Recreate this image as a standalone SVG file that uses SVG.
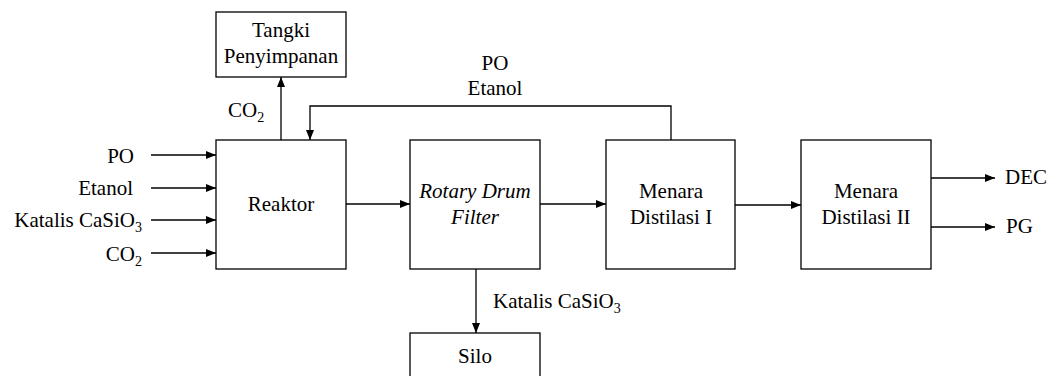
<svg xmlns="http://www.w3.org/2000/svg" width="1053" height="376" viewBox="0 0 1053 376">
<style>
text{font-family:"Liberation Serif","Times New Roman",Times,"Nimbus Roman","DejaVu Serif",serif;font-size:21px;fill:#000}
.box{fill:#fff;stroke:#000;stroke-width:1.3}
.ln{fill:none;stroke:#000;stroke-width:1.3}
.m{text-anchor:middle}
.e{text-anchor:end}
.sub{font-size:14px}
</style>
<defs>
<marker id="ah" viewBox="0 0 10 8" refX="10" refY="4" markerWidth="10" markerHeight="8" markerUnits="userSpaceOnUse" orient="auto">
<path d="M0,0L10,4L0,8z" fill="#000"/>
</marker>
</defs>
<rect width="1053" height="376" fill="#fff"/>
<g id="connectors">
<line class="ln" x1="151" y1="155" x2="216" y2="155" marker-end="url(#ah)"/>
<line class="ln" x1="151" y1="188" x2="216" y2="188" marker-end="url(#ah)"/>
<line class="ln" x1="151" y1="220" x2="216" y2="220" marker-end="url(#ah)"/>
<line class="ln" x1="151" y1="253" x2="216" y2="253" marker-end="url(#ah)"/>
<line class="ln" x1="281" y1="140" x2="281" y2="77" marker-end="url(#ah)"/>
<polyline class="ln" points="671,140 671,106 310,106 310,140" marker-end="url(#ah)"/>
<line class="ln" x1="346" y1="204" x2="410" y2="204" marker-end="url(#ah)"/>
<line class="ln" x1="540" y1="204" x2="606" y2="204" marker-end="url(#ah)"/>
<line class="ln" x1="735" y1="205" x2="801" y2="205" marker-end="url(#ah)"/>
<line class="ln" x1="931" y1="178" x2="995" y2="178" marker-end="url(#ah)"/>
<line class="ln" x1="931" y1="227" x2="995" y2="227" marker-end="url(#ah)"/>
<line class="ln" x1="476" y1="269" x2="476" y2="333" marker-end="url(#ah)"/>
<text class="e" x="134" y="163">PO</text>
<text class="e" x="133" y="195">Etanol</text>
<text class="e" x="142" y="227">Katalis CaSiO<tspan class="sub" dy="5">3</tspan></text>
<text class="e" x="142" y="261">CO<tspan class="sub" dy="5">2</tspan></text>
<text x="228" y="117">CO<tspan class="sub" dy="5">2</tspan></text>
<text class="m" x="495" y="70">PO</text>
<text class="m" x="495" y="95">Etanol</text>
<text x="493" y="308">Katalis CaSiO<tspan class="sub" dy="5">3</tspan></text>
<text x="1005" y="184">DEC</text>
<text x="1006" y="233">PG</text>
</g>
<g id="tangki">
<rect class="box" x="216" y="12" width="130" height="65"/>
<text class="m" x="281" y="37">Tangki</text>
<text class="m" x="281" y="63">Penyimpanan</text>
</g>
<g id="reaktor">
<rect class="box" x="216" y="140" width="130" height="129"/>
<text class="m" x="281" y="211">Reaktor</text>
</g>
<g id="rdf">
<rect class="box" x="410" y="140" width="130" height="129"/>
<text class="m" x="475" y="198" font-style="italic">Rotary Drum</text>
<text class="m" x="475" y="224" font-style="italic">Filter</text>
</g>
<g id="md1">
<rect class="box" x="606" y="140" width="129" height="129"/>
<text class="m" x="671" y="198">Menara</text>
<text class="m" x="671" y="224">Distilasi I</text>
</g>
<g id="md2">
<rect class="box" x="801" y="140" width="130" height="129"/>
<text class="m" x="866" y="198">Menara</text>
<text class="m" x="866" y="224">Distilasi II</text>
</g>
<g id="silo">
<rect class="box" x="410" y="333" width="130" height="60"/>
<text class="m" x="475" y="363">Silo</text>
</g>
</svg>
